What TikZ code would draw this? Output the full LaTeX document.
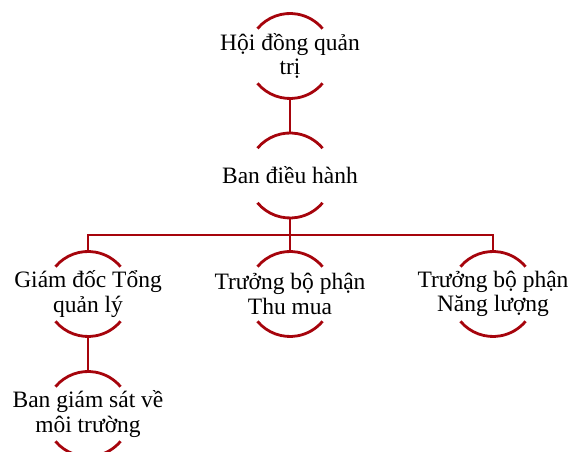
\documentclass[tikz,border=0pt]{standalone}
\usepackage{fontspec}
\setmainfont{Liberation Serif}
\definecolor{arcred}{RGB}{166,4,12}
\tikzset{
  orgnode/.style={circle, draw=none, minimum size=85pt, inner sep=0pt, outer sep=0pt},
  orgtext/.style={align=center, inner sep=0pt, font=\fontsize{23.5}{24.5}\selectfont},
  link/.style={draw=arcred, line width=2.8pt},
  arcs/.style={draw=arcred, line width=2.8pt}
}
\newcommand{\twoarcs}[1]{%
  \draw[arcs] (#1.140) arc[start angle=140, end angle=40, radius=42.5pt];
  \draw[arcs] (#1.220) arc[start angle=220, end angle=320, radius=42.5pt];}
\begin{document}
\begin{tikzpicture}[x=1pt,y=1pt]
\useasboundingbox (0,0) rectangle (573,452);
\node[orgnode, label={[orgtext]center:Hội đồng quản\\trị}] (n1) at (290,396) {};
\node[orgnode, label={[orgtext]center:Ban điều hành}] (n2) at (290,276.5) {};
\node[orgnode, label={[orgtext]center:Giám đốc Tổng\\quản lý}] (n3) at (88,158) {};
\node[orgnode, label={[orgtext]center:Trưởng bộ phận\\Thu mua}] (n4) at (290,158) {};
\node[orgnode, label={[orgtext]center:Trưởng bộ phận\\Năng lượng}] (n5) at (493,158) {};
\node[orgnode, label={[orgtext]center:Ban giám sát về\\môi trường}] (n6) at (88,38) {};
\coordinate (bar) at (290,217);
\twoarcs{n1}
\twoarcs{n2}
\twoarcs{n3}
\twoarcs{n4}
\twoarcs{n5}
\twoarcs{n6}
\draw[link] (n1.south) -- (n2.north);
\draw[link] (n2.south) -- (bar);
\draw[link] (bar) -- (n4.north);
\draw[link] (n3.north) -- (n3.north |- bar) -- (n5.north |- bar) -- (n5.north);
\draw[link] (n3.south) -- (n6.north);
\end{tikzpicture}
\end{document}
